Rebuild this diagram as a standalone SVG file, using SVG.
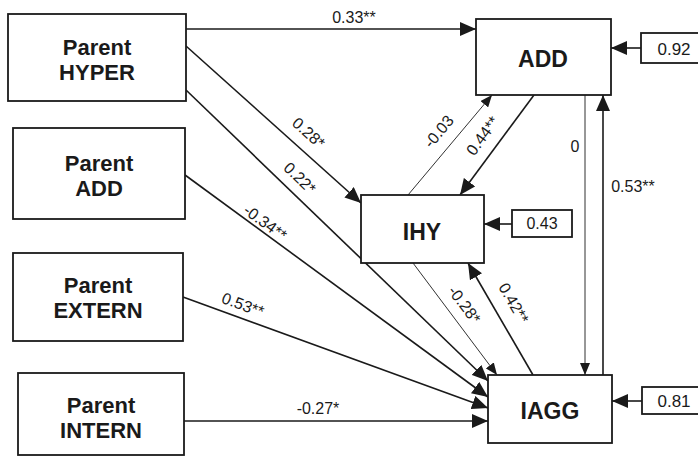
<svg xmlns="http://www.w3.org/2000/svg" width="698" height="458" viewBox="0 0 698 458">
<defs>
<style>
.box{fill:#fff;stroke:#1a1a1a;stroke-width:1.8}
.nb{font-family:"Liberation Sans",Arial,sans-serif;font-weight:bold;font-size:22px;fill:#1a1a1a;text-anchor:middle}
.nb1{font-family:"Liberation Sans",Arial,sans-serif;font-weight:bold;font-size:23px;fill:#1a1a1a;text-anchor:middle}
.lb{font-family:"Liberation Sans",Arial,sans-serif;font-size:16px;fill:#1a1a1a;text-anchor:middle}
.eb{font-family:"Liberation Sans",Arial,sans-serif;font-size:17px;fill:#1a1a1a;text-anchor:middle}
.e{stroke:#1a1a1a;stroke-width:1.6;fill:none;marker-end:url(#ah)}
.t{stroke:#1a1a1a;stroke-width:0.9;fill:none;marker-end:url(#as)}
</style>
<marker id="ah" markerUnits="userSpaceOnUse" markerWidth="16" markerHeight="14" refX="16" refY="7" orient="auto">
<path d="M0,0 L16,7 L0,14 z" fill="#1a1a1a"/>
</marker>
<marker id="as" markerUnits="userSpaceOnUse" markerWidth="12" markerHeight="10" refX="12" refY="5" orient="auto">
<path d="M0,0 L12,5 L0,10 z" fill="#1a1a1a"/>
</marker>
</defs>
<g id="connectors">
<line class="e" x1="186" y1="29" x2="476" y2="29"/>
<text class="lb" x="354" y="23">0.33**</text>
<line class="e" x1="186" y1="46" x2="361" y2="203"/>
<text class="lb" transform="rotate(42 305 137)" x="305" y="137">0.28*</text>
<line class="e" x1="186" y1="90" x2="488" y2="381"/>
<text class="lb" transform="rotate(44 296 182)" x="296" y="182">0.22*</text>
<line class="e" x1="185" y1="175" x2="488" y2="397"/>
<text class="lb" transform="rotate(36 262 227)" x="262" y="227">-0.34**</text>
<line class="e" x1="183" y1="297" x2="488" y2="408"/>
<text class="lb" transform="rotate(20 241 310)" x="241" y="310">0.53**</text>
<line class="e" x1="184" y1="421" x2="488" y2="421"/>
<text class="lb" x="318" y="414">-0.27*</text>
<line class="t" x1="408" y1="195" x2="492" y2="95"/>
<text class="lb" transform="rotate(-50 443 135)" x="443" y="135">-0.03</text>
<line class="e" x1="534" y1="95" x2="460" y2="195"/>
<text class="lb" transform="rotate(-54 487 139)" x="487" y="139">0.44**</text>
<line class="t" x1="413" y1="263" x2="497" y2="375"/>
<text class="lb" transform="rotate(53 460 308)" x="460" y="308">-0.28*</text>
<line class="e" x1="533" y1="375" x2="468" y2="263"/>
<text class="lb" transform="rotate(60 509 306)" x="509" y="306">0.42**</text>
<line class="t" x1="585" y1="95" x2="585" y2="375"/>
<text class="lb" x="575" y="152">0</text>
<line class="e" x1="603" y1="375" x2="603" y2="95"/>
<text class="lb" x="633" y="192">0.53**</text>
<line class="e" x1="641" y1="48" x2="611" y2="48"/>
<line class="e" x1="512" y1="224" x2="484" y2="224"/>
<line class="e" x1="642" y1="401" x2="612" y2="401"/>
</g>
<g id="parent-hyper">
<rect class="box" x="8" y="14" width="178" height="87"/>
<text class="nb" x="97" y="55">Parent</text>
<text class="nb" x="97" y="80">HYPER</text>
</g>
<g id="parent-add">
<rect class="box" x="13" y="128" width="172" height="91"/>
<text class="nb" x="99" y="171">Parent</text>
<text class="nb" x="99" y="196">ADD</text>
</g>
<g id="parent-extern">
<rect class="box" x="13" y="253" width="170" height="88"/>
<text class="nb" x="98" y="293">Parent</text>
<text class="nb" x="98" y="318">EXTERN</text>
</g>
<g id="parent-intern">
<rect class="box" x="18" y="373" width="166" height="82"/>
<text class="nb" x="101" y="413">Parent</text>
<text class="nb" x="101" y="438">INTERN</text>
</g>
<g id="add">
<rect class="box" x="476" y="19" width="135" height="76"/>
<text class="nb1" x="543" y="67">ADD</text>
</g>
<g id="ihy">
<rect class="box" x="361" y="195" width="123" height="68"/>
<text class="nb1" x="422" y="240">IHY</text>
</g>
<g id="iagg">
<rect class="box" x="488" y="375" width="124" height="68"/>
<text class="nb1" x="550" y="419">IAGG</text>
</g>
<g id="err-add">
<rect class="box" x="641" y="33" width="62" height="30"/>
<text class="eb" x="674" y="55">0.92</text>
</g>
<g id="err-ihy">
<rect class="box" x="512" y="210" width="60" height="27"/>
<text class="lb" x="542" y="229">0.43</text>
</g>
<g id="err-iagg">
<rect class="box" x="642" y="387" width="62" height="27"/>
<text class="eb" x="674" y="407">0.81</text>
</g>
</svg>
